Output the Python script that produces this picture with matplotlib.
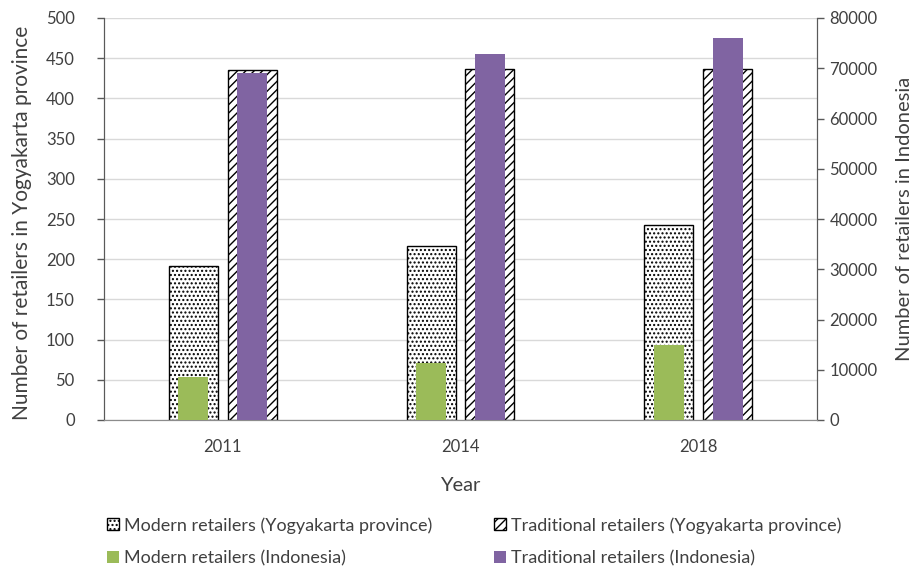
import numpy as np
import matplotlib
matplotlib.use("Agg")
import matplotlib.pyplot as plt
import matplotlib.patches as mpatches

plt.rcParams["font.family"] = ["Lato", "DejaVu Sans"]
plt.rcParams["hatch.linewidth"] = 1.0

years = ["2011", "2014", "2018"]
modern_yogya = [191, 216, 243]
traditional_yogya = [435, 436, 436]
modern_indo = [8600, 11300, 14900]
traditional_indo = [69000, 72900, 76000]

GREEN = "#9bbb59"
PURPLE = "#8064a2"
AXIS = "#595959"
TEXT = "#404040"

fig = plt.figure(figsize=(9.21, 5.72), dpi=100)
ax = fig.add_axes([104 / 921, 152 / 572, 713 / 921, 402 / 572])
ax2 = ax.twinx()

x = np.arange(len(years))
off = 0.124
wide = 0.206
narrow = 0.126

# Yogyakarta bars (left axis)
ax.bar(x - off, modern_yogya, wide, facecolor="white", edgecolor="black",
       hatch="....", linewidth=1.0, zorder=2)
ax.bar(x + off, traditional_yogya, wide, facecolor="white", edgecolor="black",
       hatch="////", linewidth=1.0, zorder=2)

# Indonesia bars (right axis)
ax2.bar(x - off, modern_indo, narrow, color=GREEN, zorder=3)
ax2.bar(x + off, traditional_indo, narrow, color=PURPLE, zorder=3)

ax.set_xlim(-0.5, 2.5)
ax.set_ylim(0, 500)
ax.set_yticks(np.arange(0, 501, 50))
ax2.set_ylim(0, 80000)
ax2.set_yticks(np.arange(0, 80001, 10000))
ax.set_xticks(x)
ax.set_xticklabels(years)

ax.set_axisbelow(True)
ax.grid(axis="y", color="#d9d9d9", linewidth=1.0, zorder=0)

for a in (ax, ax2):
    a.spines["top"].set_visible(False)
    a.spines["left"].set_color(AXIS)
    a.spines["right"].set_color(AXIS)
    a.spines["bottom"].set_color("#8c8c8c")
    a.tick_params(axis="y", colors=AXIS, labelcolor=TEXT, labelsize=12,
                  length=5, width=1, direction="out")
ax.tick_params(axis="y", pad=16)
ax2.tick_params(axis="y", pad=4)
ax.tick_params(axis="x", length=0, labelsize=12, labelcolor=TEXT, pad=14)

ax.set_ylabel("Number of retailers in Yogyakarta province", fontsize=15,
              color=TEXT)
ax.yaxis.set_label_coords(-0.101, 0.49)
ax2.set_ylabel("Number of retailers in Indonesia", fontsize=14.5, color=TEXT)
ax2.yaxis.set_label_coords(1.1108, 0.5)
ax.set_xlabel("Year", fontsize=14.5, color=TEXT)
ax.xaxis.set_label_coords(0.5, -0.142)

handles = [
    mpatches.Patch(facecolor="white", edgecolor="black", hatch="....",
                   label="Modern retailers (Yogyakarta province)"),
    mpatches.Patch(facecolor=GREEN, label="Modern retailers (Indonesia)"),
    mpatches.Patch(facecolor="white", edgecolor="black", hatch="////",
                   label="Traditional retailers (Yogyakarta province)"),
    mpatches.Patch(facecolor=PURPLE, label="Traditional retailers (Indonesia)"),
]
fig.legend(handles=handles, ncol=2, loc="upper left",
           bbox_to_anchor=(91 / 921, 1 - 501 / 572), frameon=False,
           fontsize=13, labelcolor=TEXT, handlelength=0.65, handleheight=0.65,
           handletextpad=0.3, columnspacing=3.4, labelspacing=0.9)

fig.savefig("out.png", dpi=100, facecolor="white")
